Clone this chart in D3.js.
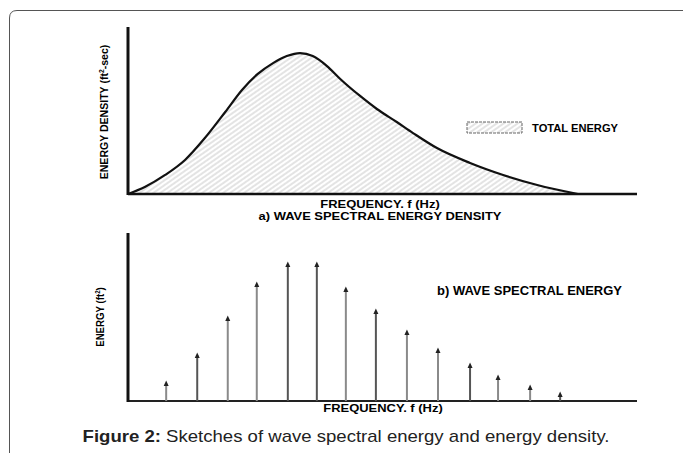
<!DOCTYPE html>
<html>
<head>
<meta charset="utf-8">
<script src="https://cdn.jsdelivr.net/npm/d3@7.9.0/dist/d3.min.js"></script>
<style>
  body { margin: 0; background: #fff; }
  svg { display: block; font-family: "Liberation Sans", Arial, sans-serif; }
</style>
</head>
<body>
<div id="chart"></div>
<script>
// top panel: energy density curve (arbitrary units)
const densityFreq = [0, 3.3, 7.3, 11.2, 15.1, 19.1, 22.4, 25.5, 28.5, 31.2, 33.8, 36.3, 39.1, 41.7, 45.6, 48.9, 52.8, 56.0, 60.7, 67.2, 73.7, 80.4, 88.4];
const densityValues = [0, 4.2, 11.4, 20.4, 33.5, 49.1, 62.3, 71.9, 78.4, 82.6, 84.4, 82.6, 76.6, 68.9, 58.7, 50.9, 43.1, 36.5, 27.5, 18.6, 11.4, 5.4, 0];

// bottom panel: discrete energy per frequency band
const stemFreq = [7.5, 13.6, 19.6, 25.3, 31.4, 37.1, 42.8, 48.7, 54.8, 60.9, 67.2, 72.7, 79.0, 84.9];
const stemEnergy = [10.7, 27.4, 49.4, 69.6, 81.5, 81.5, 66.7, 53.6, 41.1, 30.4, 21.4, 14.3, 8.3, 4.2];

const W = 683, H = 453;
const svg = d3.select("#chart").append("svg").attr("width", W).attr("height", H);

// text in the scan is stretched sideways, so squeeze/stretch each label to its width
function label(txt, cx, cy, width, size, rot = 0, bold = true) {
  const t = svg.append("text")
    .attr("text-anchor", "middle")
    .style("font-size", size + "px")
    .style("font-weight", bold ? "bold" : "normal");
  if (typeof txt === "function") txt(t); else t.text(txt);
  const bw = t.node().getBBox().width;
  t.attr("transform", `translate(${cx},${cy}) rotate(${rot}) scale(${width / bw},1)`);
  return t;
}

// hatch pattern for the area under the curve
const defs = svg.append("defs");
const pat = defs.append("pattern")
  .attr("id", "hatch")
  .attr("patternUnits", "userSpaceOnUse")
  .attr("width", 4).attr("height", 4)
  .attr("patternTransform", "rotate(-35)");
pat.append("line")
  .attr("x1", 0).attr("y1", 2).attr("x2", 4).attr("y2", 2)
  .attr("stroke", "#c8c8c8").attr("stroke-width", 1);

// frame around figure
svg.append("path")
  .attr("d", "M9.5,460 L9.5,18 Q9.5,10.5 17,10.5 L690,10.5")
  .attr("fill", "none").attr("stroke", "#555").attr("stroke-width", 1);

const x = d3.scaleLinear().domain([0, 100]).range([128, 637]);

// ---- panel a ----
const yTop = d3.scaleLinear().domain([0, 100]).range([194, 27]);
const pts = densityFreq.map((f, i) => [f, densityValues[i]]);
const curve = d3.curveMonotoneX;

svg.append("path")
  .datum(pts)
  .attr("fill", "url(#hatch)")
  .attr("d", d3.area().x(d => x(d[0])).y0(yTop(0)).y1(d => yTop(d[1])).curve(curve));

svg.append("path")
  .datum(pts)
  .attr("fill", "none")
  .attr("stroke", "#111")
  .attr("stroke-width", 2.2)
  .attr("d", d3.line().x(d => x(d[0])).y(d => yTop(d[1])).curve(curve));

svg.append("line")
  .attr("x1", x(0)).attr("x2", x(100)).attr("y1", yTop(0)).attr("y2", yTop(0))
  .attr("stroke", "#111").attr("stroke-width", 2.5);
svg.append("line")
  .attr("x1", x(0)).attr("x2", x(0)).attr("y1", yTop(0) + 1).attr("y2", yTop(100))
  .attr("stroke", "#111").attr("stroke-width", 3);

label(t => t.html('ENERGY DENSITY (ft<tspan dy="-4" font-size="7">2</tspan><tspan dy="4">-sec)</tspan>'),
  108, 112, 135, 11, -90);

label("FREQUENCY. f (Hz)", 380, 208, 120, 11);
label("a) WAVE SPECTRAL ENERGY DENSITY", 380, 219.5, 244, 11);

// legend
svg.append("rect")
  .attr("x", 467).attr("y", 122).attr("width", 55).attr("height", 11)
  .attr("fill", "url(#hatch)")
  .attr("stroke", "#666").attr("stroke-width", 1).attr("stroke-dasharray", "3,1");
label("TOTAL ENERGY", 575, 131.5, 86, 10.5);

// ---- panel b ----
const yBot = d3.scaleLinear().domain([0, 100]).range([401, 233]);

svg.append("line")
  .attr("x1", x(0)).attr("x2", x(100)).attr("y1", yBot(0)).attr("y2", yBot(0))
  .attr("stroke", "#222").attr("stroke-width", 2.2);
svg.append("line")
  .attr("x1", x(0)).attr("x2", x(0)).attr("y1", yBot(0) + 1).attr("y2", yBot(100))
  .attr("stroke", "#111").attr("stroke-width", 3);

const stems = svg.append("g").selectAll("g")
  .data(stemFreq.map((f, i) => ({ f, e: stemEnergy[i], i })))
  .join("g");

stems.append("line")
  .attr("x1", d => x(d.f)).attr("x2", d => x(d.f))
  .attr("y1", yBot(0)).attr("y2", d => yBot(d.e))
  .attr("stroke", d => (d.i % 3 === 1 || d.i === 5 || d.i === 7) ? "#555" : "#8a8a8a")
  .attr("stroke-width", 2);

stems.append("path")
  .attr("d", d => {
    const cx = x(d.f), cy = yBot(d.e);
    return `M${cx - 2.5},${cy + 3} L${cx},${cy - 2.5} L${cx + 2.5},${cy + 3} Z`;
  })
  .attr("fill", "#222");

label(t => t.html('ENERGY (ft<tspan dy="-4" font-size="7">2</tspan><tspan dy="4">)</tspan>'),
  104, 317, 60, 11, -90);

label("FREQUENCY. f (Hz)", 383, 412, 120, 11);
label("b) WAVE SPECTRAL ENERGY", 529.5, 295, 185, 12);

// caption
label(t => {
  t.attr("fill", "#222");
  t.append("tspan").style("font-weight", "bold").text("Figure 2:");
  t.append("tspan").style("font-weight", "normal").text(" Sketches of wave spectral energy and energy density.");
}, 346, 442, 527, 17, 0, false);
</script>
</body>
</html>
